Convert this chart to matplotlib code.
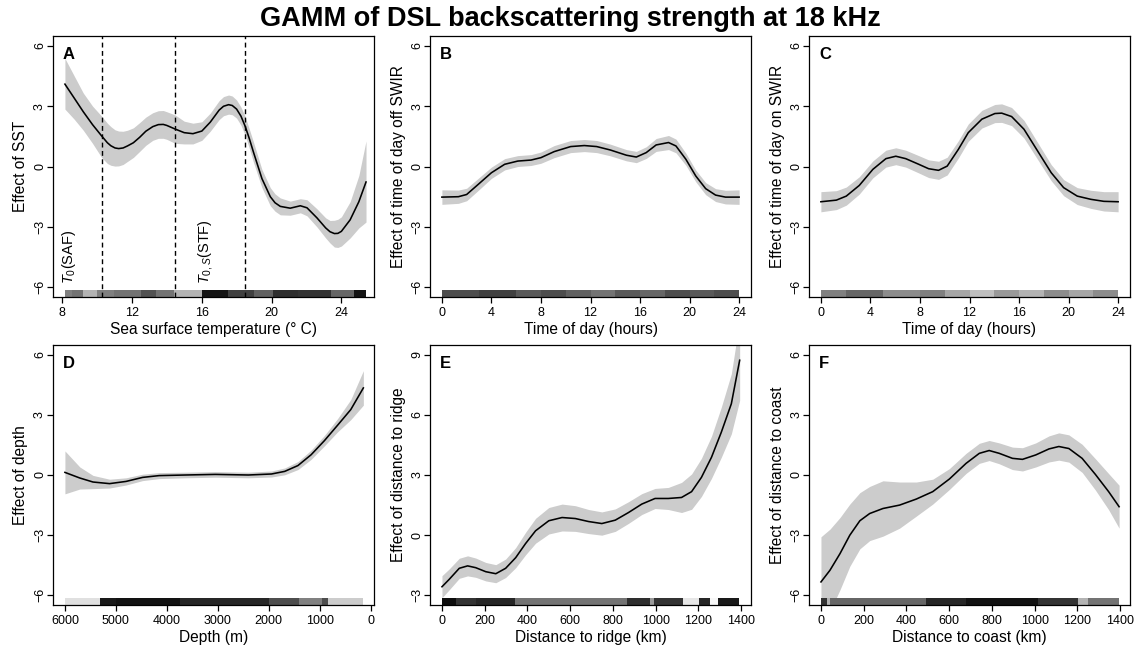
import matplotlib
matplotlib.use("Agg")
import matplotlib.pyplot as plt

plt.rcParams['font.family'] = ['Liberation Sans', 'DejaVu Sans']
plt.rcParams['mathtext.fontset'] = 'custom'
plt.rcParams['mathtext.rm'] = 'Liberation Sans'
plt.rcParams['mathtext.it'] = 'Liberation Sans:italic'
plt.rcParams['axes.unicode_minus'] = True

TITLE = "GAMM of DSL backscattering strength at 18 kHz"

# ---------------- Panel A: sea surface temperature ----------------
sst_x = [8.17, 8.7, 9.22, 9.75, 10.27, 10.6, 10.8, 11.04, 11.25, 11.5, 11.75, 12.09,
         12.45, 12.8, 13.2, 13.52, 13.8, 14.0, 14.48, 15.0, 15.5, 16.01, 16.49, 17.0,
         17.25, 17.54, 17.75, 18.0, 18.25, 18.49, 18.73, 18.97, 19.45, 19.93, 20.2,
         20.5, 21.07, 21.65, 22.03, 22.6, 23.1, 23.35, 23.6, 23.8, 24.0, 24.5, 25.0, 25.41]
sst_fit = [4.09, 3.40, 2.72, 2.08, 1.52, 1.18, 1.03, 0.92, 0.89, 0.92, 1.02, 1.18,
           1.45, 1.75, 1.98, 2.08, 2.09, 2.04, 1.86, 1.68, 1.63, 1.76, 2.20, 2.80,
           2.99, 3.07, 3.03, 2.85, 2.50, 2.00, 1.38, 0.70, -0.60, -1.50, -1.80,
           -1.98, -2.07, -1.95, -2.05, -2.55, -3.05, -3.24, -3.33, -3.32, -3.22, -2.65, -1.75, -0.77]
sst_lo = [2.85, 2.35, 1.80, 1.15, 0.45, 0.15, 0.06, 0.02, 0.03, 0.10, 0.25, 0.45,
          0.75, 1.05, 1.30, 1.40, 1.40, 1.35, 1.15, 1.12, 1.12, 1.30, 1.75, 2.33,
          2.52, 2.60, 2.57, 2.40, 2.05, 1.55, 0.90, 0.20, -1.05, -1.95, -2.22,
          -2.40, -2.42, -2.30, -2.45, -3.00, -3.55, -3.80, -4.00, -4.02, -3.95, -3.55, -3.05, -2.76]
sst_hi = [5.37, 4.50, 3.65, 3.00, 2.50, 2.15, 1.98, 1.82, 1.76, 1.75, 1.80, 1.92,
          2.18, 2.45, 2.67, 2.77, 2.78, 2.72, 2.56, 2.25, 2.15, 2.22, 2.65, 3.27,
          3.47, 3.55, 3.50, 3.30, 2.95, 2.48, 1.85, 1.20, -0.15, -1.05, -1.36,
          -1.56, -1.72, -1.60, -1.65, -2.10, -2.55, -2.68, -2.67, -2.62, -2.50, -1.75, -0.45, 1.27]
sst_fronts = [10.28, 14.48, 18.49]
sst_rug_edges = [8.17, 8.6, 9.2, 10.0, 10.3, 11.0, 12.5, 13.4, 14.4, 16.0, 17.5, 19.0,
                 20.1, 21.5, 23.4, 24.7, 25.4]
sst_rug_shade = [0.5, 0.55, 0.3, 0.5, 0.5, 0.55, 0.68, 0.55, 0.3, 0.92, 0.75, 0.62,
                 0.82, 0.8, 0.6, 0.92]

# ---------------- Panel B: time of day off SWIR ----------------
off_x = [0, 1.33, 2, 2.93, 4, 5.07, 6.13, 7.2, 8, 9.07, 10.4, 11.5, 12.5, 13.6, 14.9,
         15.7, 16.5, 17.3, 18.3, 18.9, 19.7, 20.5, 21.3, 22.1, 22.9, 24]
off_fit = [-1.52, -1.50, -1.39, -0.89, -0.31, 0.11, 0.27, 0.32, 0.44, 0.74, 0.99, 1.04,
           0.99, 0.82, 0.56, 0.47, 0.69, 1.07, 1.19, 1.02, 0.36, -0.47, -1.10, -1.42,
           -1.52, -1.52]
off_se = [0.36, 0.33, 0.31, 0.30, 0.28, 0.28, 0.27, 0.27, 0.28, 0.30, 0.30, 0.30, 0.30,
          0.29, 0.28, 0.28, 0.29, 0.32, 0.35, 0.34, 0.30, 0.29, 0.30, 0.32, 0.34, 0.36]
off_rug_edges = [0, 3, 6, 8, 10, 12, 14, 16, 18, 20, 22, 24]
off_rug_shade = [0.7, 0.75, 0.65, 0.7, 0.62, 0.55, 0.65, 0.6, 0.7, 0.65, 0.7]

# ---------------- Panel C: time of day on SWIR ----------------
on_x = [0, 1.25, 2.05, 3.1, 4.2, 5.25, 6.05, 6.85, 7.9, 8.7, 9.5, 10.2, 11.1, 11.9, 13,
        14.05, 14.6, 15.4, 16.4, 17.5, 18.6, 19.6, 20.7, 21.8, 22.85, 24]
on_fit = [-1.75, -1.67, -1.47, -0.94, -0.14, 0.39, 0.51, 0.39, 0.11, -0.11, -0.19, 0.02,
          0.85, 1.68, 2.35, 2.63, 2.65, 2.48, 1.85, 0.77, -0.31, -1.05, -1.47, -1.63,
          -1.73, -1.75]
on_se = [0.50, 0.47, 0.45, 0.43, 0.42, 0.42, 0.42, 0.42, 0.43, 0.44, 0.45, 0.44, 0.43,
         0.43, 0.44, 0.45, 0.46, 0.45, 0.44, 0.42, 0.40, 0.40, 0.42, 0.45, 0.48, 0.50]
on_rug_edges = [0, 2, 5, 8, 10, 12, 14, 16, 18, 20, 22, 24]
on_rug_shade = [0.5, 0.6, 0.45, 0.5, 0.35, 0.25, 0.4, 0.3, 0.45, 0.35, 0.45]

# ---------------- Panel D: depth ----------------
dep_x = [6000, 5708, 5449, 5124, 4800, 4476, 4151, 3633, 3049, 2400, 1946, 1687, 1427,
         1168, 908, 649, 390, 143]
dep_fit = [0.13, -0.15, -0.35, -0.43, -0.32, -0.12, -0.03, 0.0, 0.03, 0.0, 0.05, 0.18,
           0.47, 1.01, 1.71, 2.48, 3.26, 4.34]
dep_se = [1.07, 0.55, 0.33, 0.22, 0.18, 0.16, 0.15, 0.14, 0.14, 0.14, 0.15, 0.17, 0.20,
          0.23, 0.26, 0.33, 0.50, 0.86]
dep_rug_edges = [6000, 5316, 5000, 3750, 2000, 1410, 960, 830, 143]
dep_rug_shade = [0.12, 0.9, 0.93, 0.85, 0.7, 0.5, 0.7, 0.2]

# ---------------- Panel E: distance to ridge ----------------
rid_x = [0, 34, 81, 120, 158, 205, 252, 298, 345, 391, 438, 500, 562, 624, 686, 748,
         811, 873, 935, 997, 1059, 1121, 1168, 1214, 1261, 1307, 1354, 1393]
rid_fit = [-2.57, -2.20, -1.65, -1.53, -1.62, -1.82, -1.92, -1.65, -1.12, -0.42, 0.22,
           0.72, 0.88, 0.83, 0.68, 0.58, 0.75, 1.13, 1.55, 1.83, 1.83, 1.88, 2.17, 2.88,
           3.88, 5.13, 6.55, 8.72]
rid_se = [0.55, 0.52, 0.50, 0.50, 0.48, 0.46, 0.45, 0.46, 0.50, 0.56, 0.62, 0.66, 0.67,
          0.64, 0.60, 0.58, 0.56, 0.54, 0.52, 0.50, 0.55, 0.75, 0.88, 0.95, 1.05, 1.25,
          1.50, 2.00]
rid_rug_edges = [0, 65, 157, 343, 543, 868, 975, 990, 1130, 1205, 1252, 1292, 1390]
rid_rug_shade = [0.95, 0.8, 0.85, 0.55, 0.55, 0.82, 0.4, 0.8, 0.1, 0.85, 0.03, 0.9]

# ---------------- Panel F: distance to coast ----------------
cst_x = [0, 42, 89, 135, 182, 228, 290, 368, 446, 523, 601, 679, 741, 787, 834, 896,
         943, 1005, 1067, 1113, 1160, 1222, 1284, 1346, 1395]
cst_fit = [-5.33, -4.75, -3.92, -3.00, -2.28, -1.92, -1.67, -1.50, -1.20, -0.83, -0.20,
           0.58, 1.08, 1.22, 1.08, 0.83, 0.78, 1.00, 1.30, 1.42, 1.32, 0.83, 0.03, -0.83,
           -1.58]
cst_se = [2.25, 2.05, 1.80, 1.55, 1.40, 1.35, 1.38, 1.15, 0.85, 0.62, 0.52, 0.50, 0.50,
          0.50, 0.52, 0.56, 0.58, 0.60, 0.65, 0.68, 0.68, 0.70, 0.78, 0.90, 1.07]
cst_rug_edges = [0, 28, 43, 491, 677, 1017, 1202, 1248, 1395]
cst_rug_shade = [0.8, 0.3, 0.6, 0.85, 0.93, 0.8, 0.3, 0.55]

# ---------------- axis labels / ticks ----------------
letters = ["A", "B", "C", "D", "E", "F"]
xlabels = ["Sea surface temperature (\u00b0 C)", "Time of day (hours)", "Time of day (hours)",
           "Depth (m)", "Distance to ridge (km)", "Distance to coast (km)"]
ylabels = ["Effect of SST", "Effect of time of day off SWIR", "Effect of time of day on SWIR",
           "Effect of depth", "Effect of distance to ridge", "Effect of distance to coast"]
xticks = [[8, 12, 16, 20, 24], [0, 4, 8, 12, 16, 20, 24], [0, 4, 8, 12, 16, 20, 24],
          [6000, 5000, 4000, 3000, 2000, 1000, 0],
          [0, 200, 400, 600, 800, 1000, 1200, 1400], [0, 200, 400, 600, 800, 1000, 1200, 1400]]
yticks_std = [-6, -3, 0, 3, 6]
yticks_ridge = [-3, 0, 3, 6, 9]

# ---------------- build panels ----------------
def band(fit, se, sign):
    return [f + sign * s for f, s in zip(fit, se)]

panels = [
    dict(x=sst_x, fit=sst_fit, lo=sst_lo, hi=sst_hi, re=sst_rug_edges, rs=sst_rug_shade,
         xlim=(7.47, 25.85), ylim=(-6.48, 6.48), yt=yticks_std),
    dict(x=off_x, fit=off_fit, lo=band(off_fit, off_se, -1), hi=band(off_fit, off_se, 1),
         re=off_rug_edges, rs=off_rug_shade, xlim=(-0.96, 24.96), ylim=(-6.48, 6.48), yt=yticks_std),
    dict(x=on_x, fit=on_fit, lo=band(on_fit, on_se, -1), hi=band(on_fit, on_se, 1),
         re=on_rug_edges, rs=on_rug_shade, xlim=(-0.96, 24.96), ylim=(-6.48, 6.48), yt=yticks_std),
    dict(x=dep_x, fit=dep_fit, lo=band(dep_fit, dep_se, -1), hi=band(dep_fit, dep_se, 1),
         re=dep_rug_edges, rs=dep_rug_shade, xlim=(6240, -60), ylim=(-6.48, 6.48), yt=yticks_std),
    dict(x=rid_x, fit=rid_fit, lo=band(rid_fit, rid_se, -1), hi=band(rid_fit, rid_se, 1),
         re=rid_rug_edges, rs=rid_rug_shade, xlim=(-56, 1446), ylim=(-3.48, 9.48), yt=yticks_ridge),
    dict(x=cst_x, fit=cst_fit, lo=band(cst_fit, cst_se, -1), hi=band(cst_fit, cst_se, 1),
         re=cst_rug_edges, rs=cst_rug_shade, xlim=(-56, 1446), ylim=(-6.48, 6.48), yt=yticks_std),
]

W, H = 1141, 649
fig = plt.figure(figsize=(W / 100, H / 100), dpi=100)

def rect(l, t, r, b):
    return [l / W, 1 - b / H, (r - l) / W, (b - t) / H]

lefts = [52.7, 430, 809]
width = 321
rows = [(36, 297), (345, 605)]

def fmt(v):
    return f"{v:g}".replace("-", "\u2212")

for i, p in enumerate(panels):
    r, c = divmod(i, 3)
    t, b = rows[r]
    ax = fig.add_axes(rect(lefts[c], t, lefts[c] + width, b))
    ax.fill_between(p["x"], p["lo"], p["hi"], color="#cccccc", lw=0, zorder=1)
    ax.plot(p["x"], p["fit"], color="black", lw=1.15, zorder=3,
            solid_joinstyle="round")
    for e0, e1, s in zip(p["re"][:-1], p["re"][1:], p["rs"]):
        ax.axvspan(e0, e1, ymin=0, ymax=0.027, color=str(1 - s), lw=0, zorder=2)
    ax.set_xlim(*p["xlim"])
    ax.set_ylim(*p["ylim"])
    ax.set_xticks(xticks[i])
    ax.set_xticklabels([fmt(v) for v in xticks[i]])
    ax.set_yticks(p["yt"])
    ax.set_yticklabels([fmt(v) for v in p["yt"]], rotation=90, va="center", ha="right")
    ax.tick_params(axis="both", direction="out", length=4.3, width=0.9, labelsize=9,
                   colors="black")
    ax.tick_params(axis="x", pad=3)
    ax.tick_params(axis="y", pad=0.5)
    for sp in ax.spines.values():
        sp.set_linewidth(0.9)
        sp.set_color("black")
    ax.set_xlabel(xlabels[i], fontsize=11.2, labelpad=2)
    ax.set_ylabel(ylabels[i], fontsize=11.2, labelpad=4)
    ax.text(10 / width, 1 - 11 / (b - t), letters[i], transform=ax.transAxes,
            ha="left", va="top", fontsize=12, fontweight="bold")
    if i == 0:
        for xf in sst_fronts:
            ax.axvline(xf, color="black", lw=1.0, ls=(0, (3.5, 2.5)), zorder=4)
        ax.text(8.42, -5.85, r"$\mathit{T_0}$(SAF)", rotation=90, ha="center",
                va="bottom", fontsize=10.5)
        ax.text(16.2, -5.85, r"$\mathit{T_{0,S}}$(STF)", rotation=90, ha="center",
                va="bottom", fontsize=10.5)

fig.text(0.5, 1 - 26 / H, TITLE, ha="center", va="baseline", fontsize=19.5,
         fontweight="bold")

fig.savefig("out.png", dpi=100)
